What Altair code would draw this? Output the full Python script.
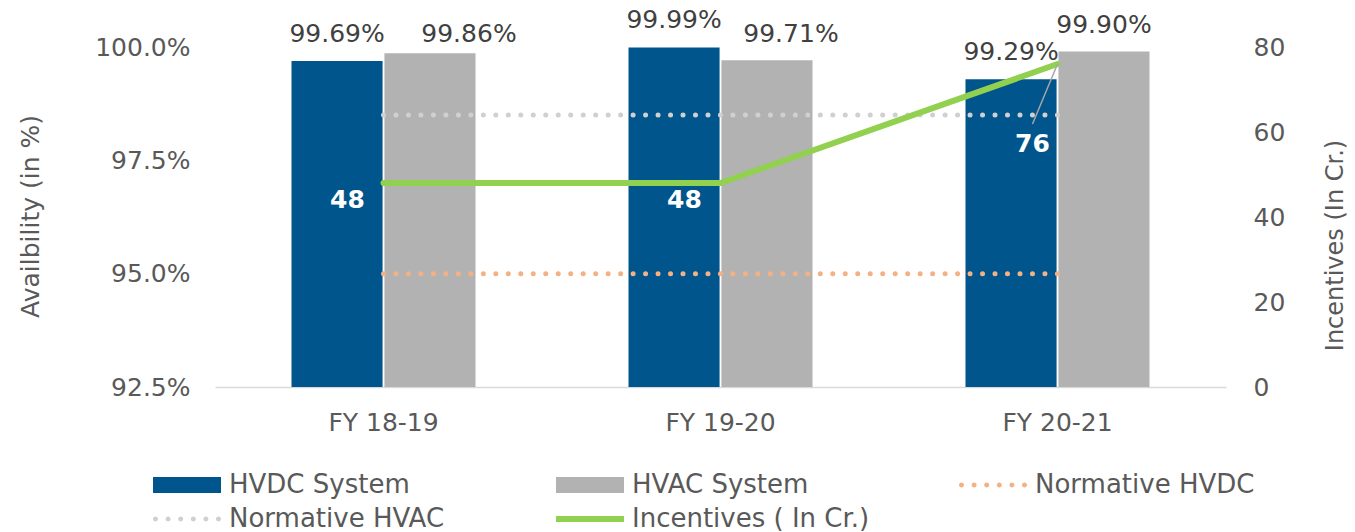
import altair as alt
import pandas as pd

# ---- data ----
years = ["FY 18-19", "FY 19-20", "FY 20-21"]
hvdc = [99.69, 99.99, 99.29]
hvac = [99.86, 99.71, 99.90]
norm_hvdc = [95.0, 95.0, 95.0]
norm_hvac = [98.5, 98.5, 98.5]
incentives = [48, 48, 76]
left_ticks = [92.5, 95.0, 97.5, 100.0]
right_ticks = [0, 20, 40, 60, 80]
series = ["HVDC System", "HVAC System", "Normative HVDC", "Normative HVAC", "Incentives ( In Cr.)"]
bar_series = ["HVDC System", "HVAC System"]

# ---- styles ----
FONT = "DejaVu Sans"
TXT = "#595959"
C_HVDC = "#00558C"
C_HVAC = "#B2B2B2"
C_NHVDC = "#F4B183"
C_NHVAC = "#D0D0D0"
C_INC = "#92D050"
colors = [C_HVDC, C_HVAC, C_NHVDC, C_NHVAC, C_INC]

# legend symbols: custom paths in units of r = sqrt(symbolSize)/2 = 10 px
SYM_R = 10.0


def dots_path(n=6, rad=2.5, half=34.0):
    parts = []
    step = (2 * half - 2 * rad) / (n - 1)
    for i in range(n):
        c = (-half + rad + i * step) / SYM_R
        r = rad / SYM_R
        parts.append(
            f"M{c - r:.4f},0a{r:.4f},{r:.4f} 0 1,0 {2 * r:.4f},0a{r:.4f},{r:.4f} 0 1,0 {-2 * r:.4f},0Z"
        )
    return "".join(parts)


def rect_path(half_w=34.0, half_h=8.0):
    w = half_w / SYM_R
    h = half_h / SYM_R
    return f"M{-w},{-h}L{w},{-h}L{w},{h}L{-w},{h}Z"


shapes = [rect_path(), rect_path(), dots_path(), dots_path(), rect_path(half_h=3.0)]

bars_df = pd.DataFrame({
    "year": years * 2,
    "series": [bar_series[0]] * 3 + [bar_series[1]] * 3,
    "value": hvdc + hvac,
})
norm_df = pd.DataFrame({
    "year": years * 2,
    "series": ["Normative HVDC"] * 3 + ["Normative HVAC"] * 3,
    "value": norm_hvdc + norm_hvac,
})
inc_df = pd.DataFrame({"year": years, "value": incentives})
legend_df = pd.DataFrame({"series": series})

x_enc = alt.X(
    "year:N",
    scale=alt.Scale(domain=years, paddingInner=0.454, paddingOuter=0.227),
    axis=alt.Axis(
        title=None, labelAngle=0, labelFontSize=25, labelColor=TXT, labelFont=FONT,
        labelPadding=23, domainColor="#D9D9D9", domainWidth=1.5, ticks=False, grid=False,
    ),
)
xoff_enc = alt.XOffset(
    "series:N", scale=alt.Scale(domain=bar_series, paddingInner=0.02, paddingOuter=0)
)

yl = alt.Y(
    "value:Q",
    scale=alt.Scale(domain=[92.5, 100], zero=False, nice=False),
    axis=alt.Axis(
        values=left_ticks, labelExpr="format(datum.value, '.1f') + '%'",
        title="Availbility (in %)", grid=False, domain=False, ticks=False,
        labelPadding=25, labelFontSize=25, labelColor=TXT, labelFont=FONT,
        titleFontSize=25, titleFont=FONT, titleColor=TXT, titleFontWeight="normal",
        titleAngle=270, titleX=-172, titleY=169, titleBaseline="bottom", titleAlign="center",
    ),
)
yr = alt.Y(
    "value:Q",
    scale=alt.Scale(domain=[0, 80], nice=False),
    axis=alt.Axis(
        orient="right", values=right_ticks,
        title="Incentives (In Cr.)", grid=False, domain=False, ticks=False,
        labelPadding=27, labelFontSize=25, labelColor=TXT, labelFont=FONT,
        titleFontSize=24, titleFont=FONT, titleColor=TXT, titleFontWeight="normal",
        titleAngle=270, titleX=121, titleY=198, titleBaseline="bottom", titleAlign="center",
    ),
)

bars = alt.Chart(bars_df).mark_bar().encode(
    x=x_enc,
    xOffset=xoff_enc,
    y=yl,
    y2=alt.datum(92.5),
    fill=alt.Fill("series:N", scale=alt.Scale(domain=bar_series, range=[C_HVDC, C_HVAC]), legend=None),
)

DASH = [0.01, 12.47]
norm_hvdc_line = alt.Chart(norm_df).transform_filter(
    "datum.series == 'Normative HVDC'"
).mark_line(color=C_NHVDC, strokeWidth=5, strokeDash=DASH, strokeCap="round").encode(
    x=x_enc, y=yl
)
norm_hvac_line = alt.Chart(norm_df).transform_filter(
    "datum.series == 'Normative HVAC'"
).mark_line(color=C_NHVAC, strokeWidth=5, strokeDash=DASH, strokeCap="round").encode(
    x=x_enc, y=yl
)


def bar_label_layer(expr, dx, dy):
    return alt.Chart(bars_df).transform_filter(expr).transform_calculate(
        label="format(datum.value, '.2f') + '%'"
    ).mark_text(dx=dx, dy=dy, fontSize=25, font=FONT, color="#404040", baseline="middle").encode(
        x=x_enc, xOffset=xoff_enc, y=yl, text="label:N"
    )


lab_main = bar_label_layer(
    "!(datum.series == 'HVAC System' && datum.year != 'FY 20-21')", 0, -27
)
lab_hvac1 = bar_label_layer(
    "datum.series == 'HVAC System' && datum.year == 'FY 18-19'", 39, -19
)
lab_hvac2 = bar_label_layer(
    "datum.series == 'HVAC System' && datum.year == 'FY 19-20'", 24, -26
)

left = alt.layer(bars, norm_hvdc_line, norm_hvac_line, lab_main, lab_hvac1, lab_hvac2)

inc_line = alt.Chart(inc_df).mark_line(color=C_INC, strokeWidth=6, strokeCap="round").encode(
    x=x_enc, y=yr
)
leader = alt.Chart(inc_df).transform_filter(
    "datum.year == 'FY 20-21'"
).mark_rule(color="#A6A6A6", strokeWidth=1.5, x2Offset=-25, y2Offset=60).encode(
    x=x_enc, x2=alt.X2("year:N"), y=yr, y2=alt.Y2("value:Q")
)
inc_labels_a = alt.Chart(inc_df).transform_filter(
    "datum.year != 'FY 20-21'"
).mark_text(dx=-36, dy=17, fontSize=25, fontWeight="bold", font=FONT, color="white").encode(
    x=x_enc, y=yr, text="value:Q"
)
inc_labels_b = alt.Chart(inc_df).transform_filter(
    "datum.year == 'FY 20-21'"
).mark_text(dx=-25, dy=80, fontSize=25, fontWeight="bold", font=FONT, color="white").encode(
    x=x_enc, y=yr, text="value:Q"
)

right = alt.layer(inc_line, leader, inc_labels_a, inc_labels_b)

leg = alt.Legend(
    title=None, orient="none", legendX=-65, legendY=425, columns=3, columnPadding=86,
    rowPadding=8, gridAlign="all", direction="horizontal",
    labelFontSize=26, labelFont=FONT, labelColor=TXT,
    labelLimit=400, labelOffset=29, symbolSize=(2 * SYM_R) ** 2, symbolOffset=24,
    symbolStrokeWidth=0, symbolOpacity=1, padding=0,
)
legend_layer = alt.Chart(legend_df).transform_filter("false").mark_point(filled=True, opacity=1).encode(
    color=alt.Color("series:N", scale=alt.Scale(domain=series, range=colors), legend=leg),
    shape=alt.Shape("series:N", scale=alt.Scale(domain=series, range=shapes), legend=leg),
)

chart = alt.layer(left, right, legend_layer).resolve_scale(
    y="independent"
).properties(
    width=1011, height=340,
    padding={"left": 10, "top": 0, "right": 0, "bottom": 0},
    background="white",
).configure_view(stroke=None)

chart.save("out.html", embed_options={"renderer": "svg", "actions": False})
